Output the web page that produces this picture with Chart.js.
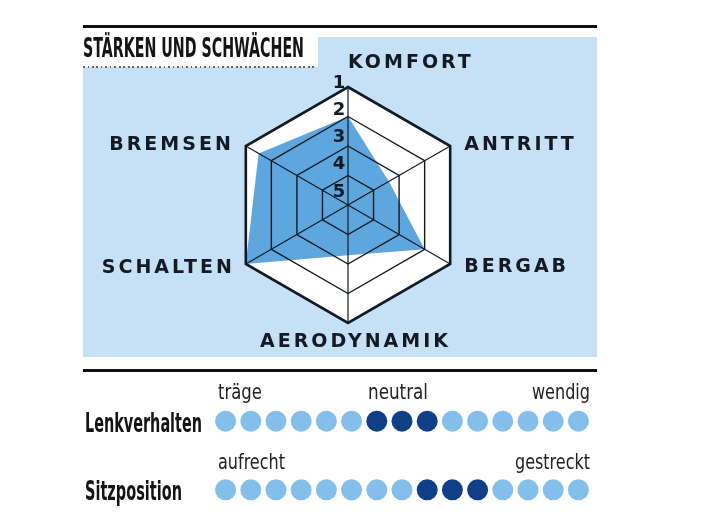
<!DOCTYPE html>
<html>
<head>
<meta charset="utf-8">
<script src="https://cdn.jsdelivr.net/npm/chart.js@4.4.1/dist/chart.umd.min.js"></script>
<style>
  html, body { margin: 0; padding: 0; background: #fff; width: 712px; height: 522px; overflow: hidden; }
  .abs { position: absolute; }
  .rule { background: #111; height: 2.5px; left: 83px; width: 514px; }
  #panel { left: 83px; top: 37px; width: 514px; height: 320px; background: #c6e0f5; }
  #titlebox { left: 83px; top: 37px; width: 235px; height: 30px; background: #fff; }
  #dots-line { left: 83px; top: 66px; width: 234px; height: 1.5px;
    background: repeating-linear-gradient(90deg, #666 0 1.5px, transparent 1.5px 4.5px); }
  .txt { white-space: nowrap; transform-origin: 0 0; color: #141414; line-height: 1; }
  .bold { font-family: "Liberation Sans Narrow", "DejaVu Sans Condensed", sans-serif; font-weight: bold; }
  .light { font-family: "Liberation Sans Narrow", "DejaVu Sans Condensed", sans-serif; font-weight: normal; color: #222; }
  canvas { position: absolute; }
</style>
</head>
<body>
<div class="abs rule" style="top:25px"></div>
<div class="abs" id="panel"></div>
<div class="abs" id="titlebox"></div>
<div class="abs" id="dots-line"></div>
<div class="abs rule" style="top:369px"></div>

<canvas id="radar" width="712" height="522" style="left:0;top:0"></canvas>
<canvas id="dots" width="378" height="103" style="left:213px;top:404px"></canvas>

<script>
// radar values: 1 = best (outer ring), 5 = worst (centre)
const radarLabels = ['KOMFORT', 'ANTRITT', 'BERGAB', 'AERODYNAMIK', 'SCHALTEN', 'BREMSEN'];
const radarValues = [2, 3.4, 2, 3.3, 1, 1.5];
const ratingTicks = [1, 2, 3, 4, 5];

// dot scales below the radar
const dotSteps = [1, 2, 3, 4, 5, 6, 7, 8, 9, 10, 11, 12, 13, 14, 15];
const lenkverhalten = [0, 0, 0, 0, 0, 0, 1, 1, 1, 0, 0, 0, 0, 0, 0];
const sitzposition = [0, 0, 0, 0, 0, 0, 0, 0, 1, 1, 1, 0, 0, 0, 0];
const rowNames = ['Lenkverhalten', 'Sitzposition'];
const lenkWords = ['träge', 'neutral', 'wendig'];
const sitzWords = ['aufrecht', 'gestreckt'];

const lightBlue = '#84beeb';
const darkBlue = '#0f3f86';
const fillBlue = '#5ea6de';
const ink = '#141a24';

// where each axis label sits relative to its outer corner
const labelPlace = [
  { align: 'left', dx: 0, dy: -26 },
  { align: 'left', dx: 14, dy: -3 },
  { align: 'left', dx: 14, dy: 1 },
  { align: 'center', dx: 6, dy: 17 },
  { align: 'right', dx: -14, dy: 2 },
  { align: 'right', dx: -15, dy: -3 }
];

// ---- html texts ----
function addText(str, cls, left, baseline, size, width, alignRight) {
  const el = document.createElement('div');
  el.className = 'abs txt ' + cls;
  el.textContent = str;
  el.style.fontSize = size + 'px';
  el.style.top = (baseline - 0.8465 * size) + 'px';
  document.body.appendChild(el);
  const w = el.getBoundingClientRect().width;
  const s = width / w;
  el.style.transform = 'scaleX(' + s + ')';
  el.style.left = (alignRight ? left - width : left) + 'px';
  return el;
}

addText('STÄRKEN UND SCHWÄCHEN', 'bold', 83, 57, 26.5, 221);
addText(rowNames[0], 'bold', 85, 432, 26, 117);
addText(rowNames[1], 'bold', 85, 500, 26, 97);
addText(lenkWords[0], 'light', 218, 400, 22, 44);
addText(lenkWords[1], 'light', 368, 400, 22, 60);
addText(lenkWords[2], 'light', 590, 400, 22, 58, true);
addText(sitzWords[0], 'light', 218, 470, 22, 67);
addText(sitzWords[1], 'light', 590, 470, 22, 75, true);

// ---- radar ----
const radarExtras = {
  id: 'radarExtras',
  beforeDatasetsDraw(chart) {
    const r = chart.scales.r;
    const ctx = chart.ctx;
    ctx.save();
    ctx.beginPath();
    radarLabels.forEach((_, i) => {
      const p = r.getPointPositionForValue(i, 1);
      if (i === 0) ctx.moveTo(p.x, p.y); else ctx.lineTo(p.x, p.y);
    });
    ctx.closePath();
    ctx.fillStyle = '#fff';
    ctx.fill();
    ctx.restore();
  },
  afterDraw(chart) {
    const r = chart.scales.r;
    const ctx = chart.ctx;
    ctx.save();
    ctx.fillStyle = ink;

    // axis names
    const ls = 3;
    ctx.font = 'bold 19px "DejaVu Sans"';
    if ('letterSpacing' in ctx) ctx.letterSpacing = ls + 'px';
    radarLabels.forEach((name, i) => {
      const p = r.getPointPositionForValue(i, 1);
      const pl = labelPlace[i];
      let w = ctx.measureText(name).width;
      if ('letterSpacing' in ctx) w -= ls;
      let x = p.x + pl.dx;
      if (pl.align === 'right') x -= w;
      if (pl.align === 'center') x -= w / 2;
      ctx.textAlign = 'left';
      ctx.textBaseline = 'alphabetic';
      ctx.fillText(name, x, p.y + pl.dy + 7);
    });

    // rating numbers
    if ('letterSpacing' in ctx) ctx.letterSpacing = '0px';
    ctx.font = 'bold 18px "DejaVu Sans"';
    ctx.textAlign = 'center';
    ratingTicks.forEach(v => {
      const y = r.yCenter - r.getDistanceFromCenterForValue(v) - (6 + (v - 1) * 2.2);
      ctx.fillText(String(v), r.xCenter - 9, y + 6.5);
    });
    ctx.restore();
  }
};

new Chart(document.getElementById('radar'), {
  type: 'radar',
  data: {
    labels: radarLabels,
    datasets: [{
      data: radarValues,
      fill: 'start',
      backgroundColor: fillBlue,
      borderWidth: 0,
      pointRadius: 0
    }]
  },
  options: {
    responsive: false,
    animation: false,
    layout: { autoPadding: false, padding: { left: 230, top: 87, right: 246, bottom: 199 } },
    plugins: { legend: { display: false }, tooltip: { enabled: false } },
    elements: { line: { tension: 0 } },
    scales: {
      r: {
        min: 1,
        max: 5,
        reverse: true,
        ticks: { display: false, stepSize: 1 },
        pointLabels: { display: false },
        grid: {
          z: 1,
          color: ink,
          lineWidth: ctx => (ctx.tick && ctx.tick.value === 1 ? 2.6 : 1.4)
        },
        angleLines: { color: ink, lineWidth: 1.2 }
      }
    }
  },
  plugins: [radarExtras]
});

// ---- dot rows ----
function dotRow(values, rowY) {
  return {
    data: dotSteps.map(s => ({ x: s, y: rowY })),
    pointBackgroundColor: values.map(v => (v ? darkBlue : lightBlue)),
    pointBorderWidth: 0,
    pointRadius: 10.5,
    pointHoverRadius: 10.5,
    showLine: false
  };
}

new Chart(document.getElementById('dots'), {
  type: 'scatter',
  data: { datasets: [dotRow(lenkverhalten, 1), dotRow(sitzposition, 0)] },
  options: {
    responsive: false,
    animation: false,
    layout: { autoPadding: false, padding: 0 },
    clip: false,
    plugins: { legend: { display: false }, tooltip: { enabled: false } },
    scales: {
      x: { type: 'linear', min: 0.5, max: 15.5, display: false },
      y: { type: 'linear', min: -0.25, max: 1.25, display: false }
    }
  }
});
</script>
</body>
</html>
